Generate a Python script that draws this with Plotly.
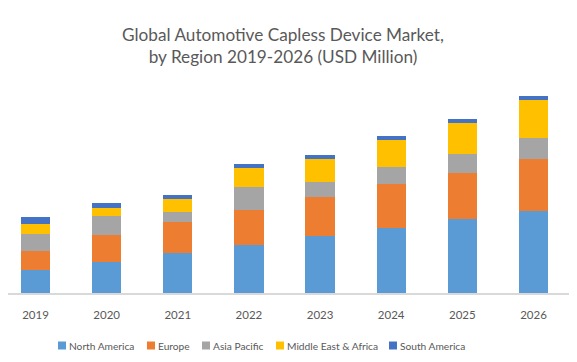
import plotly.graph_objects as go

years = ["2019", "2020", "2021", "2022", "2023", "2024", "2025", "2026"]
north_america = [23.3, 31.3, 40, 48, 57.3, 65.3, 74, 82]
europe = [18.7, 26.7, 31, 35, 38.7, 43.7, 46, 52]
asia_pacific = [17.3, 19, 10, 23, 15, 17, 19, 21]
middle_east_africa = [9.7, 8, 13, 19, 23, 27, 31, 38]
south_america = [7, 5, 4, 4, 4, 4, 4, 4]

series_names = ["North America", "Europe", "Asia Pacific", "Middle East & Africa", "South America"]
series_values = [north_america, europe, asia_pacific, middle_east_africa, south_america]
series_colors = ["#5B9BD5", "#ED7D31", "#A5A5A5", "#FFC000", "#4472C4"]

# page body has an 8px margin, so figure coords = screen coords - 8
OFF = 8
W, H = 577, 362
ML, MR, MT, MB = 0, 0, 80, 77
PW, PH = W - ML - MR, H - MT - MB

step = 71.14            # px per category
first_center = 35.5 - OFF
r0 = -(first_center - ML) / step
r1 = r0 + PW / step

fig = go.Figure()
for name, vals, color in zip(series_names, series_values, series_colors):
    fig.add_trace(go.Bar(x=years, y=vals, name=name, marker_color=color,
                         marker_line_width=0, showlegend=False))

def px_x(p):
    return (p - OFF - ML) / PW
def px_y(p):
    return (H - MB - (p - OFF)) / PH

# manual compact legend (screen px positions)
legend_left_px = [58, 147, 202, 276, 389]
legend_cy_px = 345.5
shapes = []
annotations = []
for name, color, lx in zip(series_names, series_colors, legend_left_px):
    shapes.append(dict(type="rect", xref="paper", yref="paper",
                       x0=px_x(lx), x1=px_x(lx + 8),
                       y0=px_y(legend_cy_px + 4), y1=px_y(legend_cy_px - 4),
                       fillcolor=color, line=dict(width=0)))
    annotations.append(dict(text=name, xref="paper", yref="paper",
                            x=px_x(lx + 9), y=px_y(legend_cy_px),
                            xanchor="left", yanchor="middle", showarrow=False,
                            font=dict(size=10.2, color="#595959", family="Lato")))

fig.update_layout(
    width=W, height=H,
    barmode="stack", bargap=0.59,
    paper_bgcolor="white", plot_bgcolor="white",
    margin=dict(l=ML, r=MR, t=MT, b=MB, autoexpand=False),
    font=dict(family="Lato", color="#595959"),
    title=dict(
        text="Global Automotive Capless Device Market,<br>by Region 2019-2026 (USD Million)",
        x=(283 - OFF) / W, xanchor="center", xref="container",
        y=0.91, yanchor="top",
        font=dict(size=17.2, color="#595959", family="Lato"),
    ),
    xaxis=dict(showline=True, linecolor="#D9D9D9", linewidth=1.5,
               range=[r0, r1], ticks="", ticklabelstandoff=10,
               tickfont=dict(size=11.5, color="#595959"),
               showgrid=False, zeroline=False),
    yaxis=dict(visible=False, range=[0, PH]),
    shapes=shapes,
    annotations=annotations,
    showlegend=False,
)

fig.write_html("out.html")
